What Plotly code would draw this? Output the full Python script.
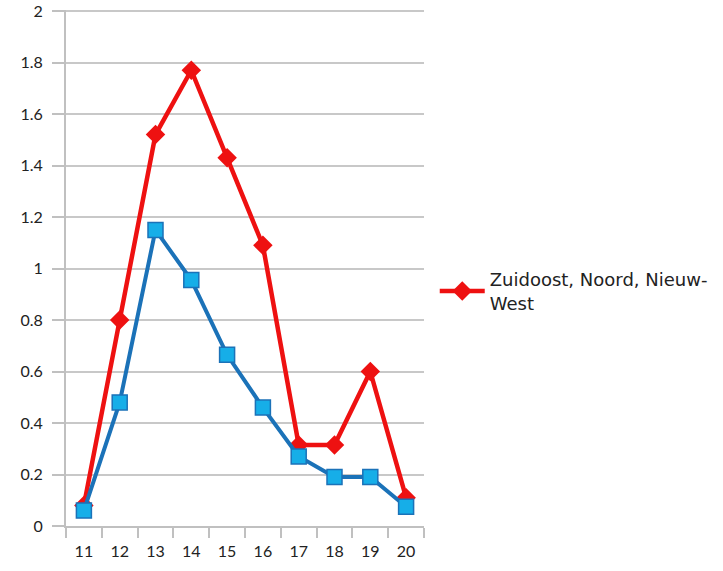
import plotly.graph_objects as go

categories = ["11", "12", "13", "14", "15", "16", "17", "18", "19", "20"]
red_values = [0.08, 0.80, 1.52, 1.77, 1.43, 1.09, 0.315, 0.315, 0.60, 0.11]
blue_values = [0.06, 0.48, 1.15, 0.955, 0.665, 0.46, 0.27, 0.19, 0.19, 0.075]
y_ticks = [0, 0.2, 0.4, 0.6, 0.8, 1, 1.2, 1.4, 1.6, 1.8, 2]
y_tick_labels = ["0", "0.2", "0.4", "0.6", "0.8", "1", "1.2", "1.4", "1.6", "1.8", "2"]
red_name = "Zuidoost, Noord, Nieuw-<br>West"

fig = go.Figure()
fig.add_trace(go.Scatter(
    x=categories, y=red_values, mode="lines+markers", name=red_name,
    line=dict(color="#ee1111", width=4.5),
    marker=dict(symbol="diamond", size=15, color="#ee1111"),
    cliponaxis=False,
))
fig.add_trace(go.Scatter(
    x=categories, y=blue_values, mode="lines+markers", showlegend=False,
    line=dict(color="#1b72b8", width=4),
    marker=dict(symbol="square", size=15, color="#16aee8",
                line=dict(color="#1b72b8", width=1.5)),
    cliponaxis=False,
))

tick_font = dict(family="Lato, DejaVu Sans, sans-serif", size=16, color="#222222")
fig.update_layout(
    width=723, height=571,
    margin=dict(l=66, r=292, t=10, b=45),
    paper_bgcolor="white", plot_bgcolor="white",
    showlegend=True,
    legend=dict(x=1.03, y=0.455, xanchor="left", yanchor="middle",
                font=dict(family="DejaVu Sans, sans-serif", size=18, color="#222222"),
                itemwidth=45, bgcolor="rgba(0,0,0,0)"),
    xaxis=dict(type="category", range=[-0.5, len(categories) - 0.5],
               tickson="boundaries", ticks="outside", ticklen=10,
               tickcolor="#c0c0c0", tickwidth=2, showgrid=False,
               showline=True, linecolor="#c0c0c0", linewidth=2,
               tickfont=tick_font, automargin=False, ticklabelstandoff=10),
    yaxis=dict(range=[0, 2.004], tickvals=y_ticks, ticktext=y_tick_labels,
               ticks="outside", ticklen=12, tickcolor="#c0c0c0", tickwidth=2,
               showgrid=True, gridcolor="#c8c8c8", gridwidth=2,
               showline=True, linecolor="#c0c0c0", linewidth=2,
               zeroline=False, tickfont=tick_font, automargin=False,
               ticklabelstandoff=6, ticklabeloverflow="allow"),
)

fig.write_html("out.html", config={"displayModeBar": False},
               post_script="document.body.style.margin='0';")
